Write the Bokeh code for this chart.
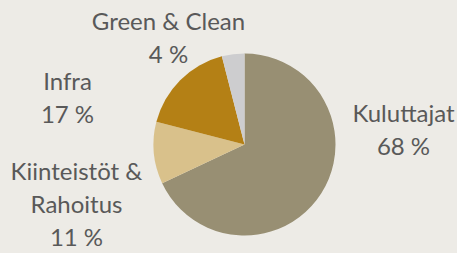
import math
from bokeh.plotting import figure
from bokeh.models import ColumnDataSource, Range1d, GlobalInlineStyleSheet
from bokeh.core.properties import value
from bokeh.embed import file_html
from bokeh.resources import INLINE

# ---- data ----
categories = ["Kuluttajat", "Kiinteistöt &\nRahoitus", "Infra", "Green & Clean"]
shares = [68, 11, 17, 4]
colors = ["#988f73", "#d9c18b", "#b48015", "#cdcdcf"]

BG = "#edebe6"
TXT = "#595959"
W, H = 457, 253

# layout (page pixel coords, y down)
cx, cy, r = 244, 144, 91
label_anchor = {  # centre x, first baseline y
    "Kuluttajat": (403, 122),
    "Kiinteistöt &\nRahoitus": (76, 180),
    "Infra": (67, 90),
    "Green & Clean": (168, 30),
}
line_gap = 33
baseline_fix = 10

total = sum(shares)
starts, ends = [], []
cum = 0.0
for s in shares:
    starts.append(math.pi / 2 - 2 * math.pi * cum / total)
    cum += s
    ends.append(math.pi / 2 - 2 * math.pi * cum / total)

src = ColumnDataSource(dict(start=starts, end=ends, color=colors, name=categories))

p = figure(width=W, height=H, output_backend="svg", toolbar_location=None,
           x_range=Range1d(0, W), y_range=Range1d(0, H),
           min_border=0, background_fill_color=BG, border_fill_color=BG,
           outline_line_color=None)
p.axis.visible = False
p.grid.visible = False
p.stylesheets = [GlobalInlineStyleSheet(css=f"body{{background:{BG};}}")]

p.wedge(x=cx, y=H - cy, radius=r, start_angle="start", end_angle="end",
        direction="clock", fill_color="color", line_color=None, source=src)

lx, ly, lt = [], [], []
for name, s in zip(categories, shares):
    ax, ay = label_anchor[name]
    lines = name.split("\n") + [f"{s} %"]
    for i, t in enumerate(lines):
        lx.append(ax)
        ly.append(H - (ay + i * line_gap - baseline_fix))
        lt.append(t)

p.text(x=lx, y=ly, text=lt, text_align="center", text_baseline="alphabetic",
       text_font=value("Lato"), text_font_size="24px", text_color=TXT)

open("out.html", "w").write(file_html(p, INLINE))
